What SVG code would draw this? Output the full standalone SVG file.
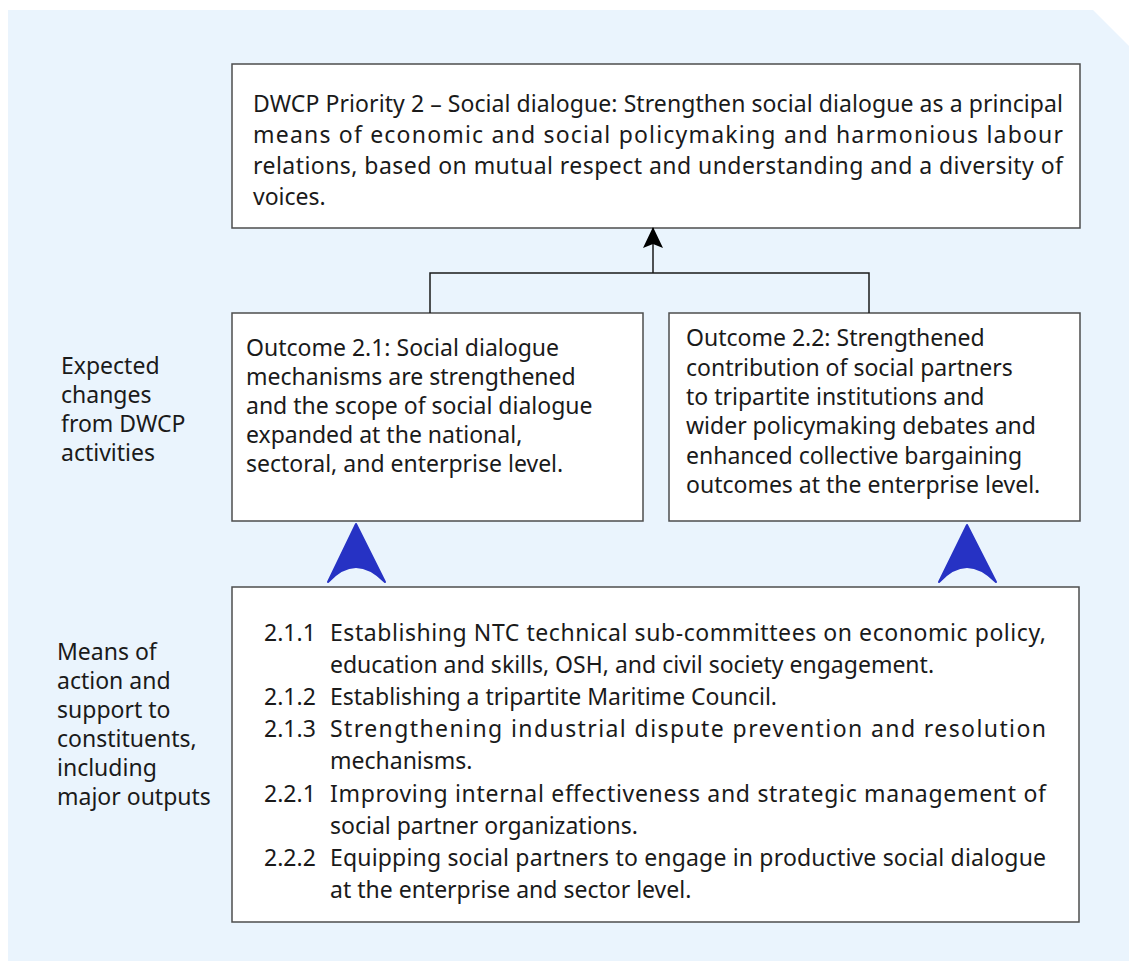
<svg xmlns="http://www.w3.org/2000/svg" width="1129" height="961" viewBox="0 0 1129 961">
<defs>
<style>
text{font-family:"Noto Sans","Open Sans","Liberation Sans",sans-serif;font-size:23px;fill:#1a1a1a}
.box{fill:#ffffff;stroke:#4d4d4d;stroke-width:1.5}
.conn{fill:none;stroke:#1a1a1a;stroke-width:1.5}
.big{fill:#2632c4;stroke:#2632c4;stroke-width:2;stroke-linejoin:round}
</style>
<marker id="ah" markerWidth="22" markerHeight="22" viewBox="0 0 22 22" refX="20" refY="11" orient="auto" markerUnits="userSpaceOnUse">
<path d="M0,1 L21,11 L0,21 L4,11 Z" fill="#000"/>
</marker>
</defs>
<polygon points="8,10 1093,10 1129,46 1129,961 8,961" fill="#eaf4fd"/>

<g id="label-expected">
<text x="61" y="374">Expected</text>
<text x="61" y="403">changes</text>
<text x="61" y="432">from DWCP</text>
<text x="61" y="461">activities</text>
</g>
<g id="label-means">
<text x="57" y="660">Means of</text>
<text x="57" y="689">action and</text>
<text x="57" y="718">support to</text>
<text x="57" y="747">constituents,</text>
<text x="57" y="776">including</text>
<text x="57" y="805">major outputs</text>
</g>

<g id="priority">
<rect class="box" x="232" y="64" width="848" height="164"/>
<text x="253" y="112" textLength="810" lengthAdjust="spacing">DWCP Priority 2 – Social dialogue: Strengthen social dialogue as a principal</text>
<text x="253" y="143" textLength="810" lengthAdjust="spacing">means of economic and social policymaking and harmonious labour</text>
<text x="253" y="174" textLength="810" lengthAdjust="spacing">relations, based on mutual respect and understanding and a diversity of</text>
<text x="253" y="205">voices.</text>
</g>

<g id="outcome-2-1">
<rect class="box" x="232" y="313" width="411" height="208"/>
<text x="246" y="356">Outcome 2.1: Social dialogue</text>
<text x="246" y="385">mechanisms are strengthened</text>
<text x="246" y="414">and the scope of social dialogue</text>
<text x="246" y="443">expanded at the national,</text>
<text x="246" y="472">sectoral, and enterprise level.</text>
</g>

<g id="outcome-2-2">
<rect class="box" x="669" y="313" width="411" height="208"/>
<text x="686" y="346">Outcome 2.2: Strengthened</text>
<text x="686" y="376">contribution of social partners</text>
<text x="686" y="405">to tripartite institutions and</text>
<text x="686" y="434">wider policymaking debates and</text>
<text x="686" y="464">enhanced collective bargaining</text>
<text x="686" y="493">outcomes at the enterprise level.</text>
</g>

<g id="outputs">
<rect class="box" x="232" y="587" width="847" height="335"/>
<text x="264" y="641">2.1.1</text>
<text x="330" y="641" textLength="716" lengthAdjust="spacing">Establishing NTC technical sub-committees on economic policy,</text>
<text x="330" y="673">education and skills, OSH, and civil society engagement.</text>
<text x="264" y="705">2.1.2</text>
<text x="330" y="705">Establishing a tripartite Maritime Council.</text>
<text x="264" y="737">2.1.3</text>
<text x="330" y="737" textLength="716" lengthAdjust="spacing">Strengthening industrial dispute prevention and resolution</text>
<text x="330" y="769">mechanisms.</text>
<text x="264" y="802">2.2.1</text>
<text x="330" y="802" textLength="716" lengthAdjust="spacing">Improving internal effectiveness and strategic management of</text>
<text x="330" y="834">social partner organizations.</text>
<text x="264" y="866">2.2.2</text>
<text x="330" y="866" textLength="716" lengthAdjust="spacing">Equipping social partners to engage in productive social dialogue</text>
<text x="330" y="898">at the enterprise and sector level.</text>
</g>

<g id="connectors">
<polyline class="conn" points="430,313 430,273 869,273 869,313"/>
<line class="conn" x1="653" y1="273" x2="653" y2="228" marker-end="url(#ah)"/>
<path class="big" d="M356,524 L385,582 Q370,567 356,567 Q342,567 328,582 Z"/>
<path class="big" d="M967,525 L996,582 Q981,567 967,567 Q953,567 939,582 Z"/>
</g>
</svg>
